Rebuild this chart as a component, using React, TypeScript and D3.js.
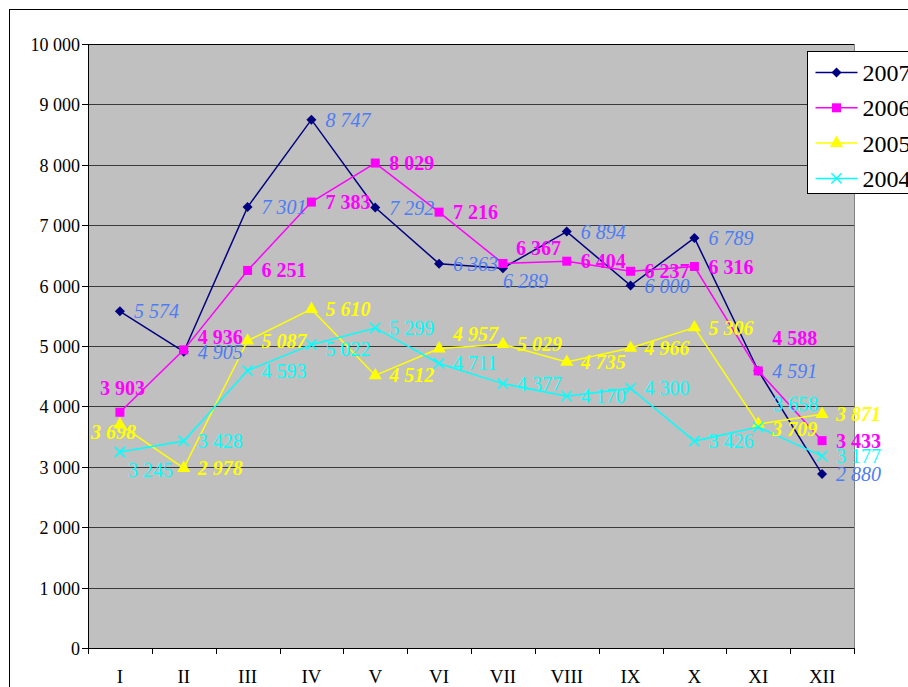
import * as d3 from "d3";

const months = ["I", "II", "III", "IV", "V", "VI", "VII", "VIII", "IX", "X", "XI", "XII"];
const yTicks = [0, 1000, 2000, 3000, 4000, 5000, 6000, 7000, 8000, 9000, 10000];

const values2007 = [5574, 4905, 7301, 8747, 7292, 6363, 6289, 6894, 6000, 6789, 4591, 2880];
const values2006 = [3903, 4936, 6251, 7383, 8029, 7216, 6367, 6404, 6237, 6316, 4588, 3433];
const values2005 = [3698, 2978, 5087, 5610, 4512, 4957, 5029, 4735, 4966, 5306, 3709, 3871];
const values2004 = [3245, 3428, 4593, 5022, 5299, 4711, 4377, 4170, 4300, 3426, 3658, 3177];

const series = [
  { name: "2007", values: values2007, color: "#000080", symbol: d3.symbolDiamond2, size: 64, filled: true,
    label: { fill: "#4d7cf4", weight: "normal", style: "italic" } },
  { name: "2006", values: values2006, color: "#ff00ff", symbol: d3.symbolSquare, size: 81, filled: true,
    label: { fill: "#ff00ff", weight: "bold", style: "normal" } },
  { name: "2005", values: values2005, color: "#ffff00", symbol: d3.symbolTriangle, size: 75, filled: true,
    label: { fill: "#ffff00", weight: "bold", style: "italic" } },
  { name: "2004", values: values2004, color: "#00ffff", symbol: d3.symbolX, size: 70, filled: false,
    label: { fill: "#00ffff", weight: "normal", style: "normal" } },
];

// hand-placed label nudges (series name + month index), like the original sheet
const labelNudge: Record<string, [number, number]> = {
  "2007-6": [0, 13],
  "2006-0": [-20, -24],
  "2006-1": [14, -13],
  "2006-6": [13, -15],
  "2006-10": [14, -33],
  "2005-0": [-29, 7],
  "2005-5": [14, -15],
  "2005-10": [14, 5],
  "2004-0": [8, 18],
  "2004-3": [14, 4],
  "2004-10": [15, -23],
};

const font = "Liberation Serif";

export default function App() {
  const width = 908;
  const height = 687;
  const plot = { left: 88, right: 854, top: 44, bottom: 648 };

  const x = d3.scaleBand().domain(months).range([plot.left, plot.right]);
  const cx = (m: string) => (x(m) as number) + x.bandwidth() / 2;
  const y = d3.scaleLinear().domain([0, 10000]).range([plot.bottom, plot.top]);

  const fmt = (v: number) => d3.format(",")(v).replace(",", " ");

  const line = d3.line<number>()
    .x((_, i) => cx(months[i]))
    .y(d => y(d));

  return (
    <div style={{ position: "absolute", left: 0, top: 0 }}>
      <svg width={width} height={height} fontFamily={font} style={{ display: "block" }}>
        <rect x={0} y={0} width={width} height={height} fill="#fff" />
        <rect x={9.5} y={9.5} width={width + 20} height={height + 20} fill="none" stroke="#000" strokeWidth={1} />

        <rect x={plot.left} y={plot.top} width={plot.right - plot.left} height={plot.bottom - plot.top} fill="#c0c0c0" />
        <line x1={plot.right + 0.5} x2={plot.right + 0.5} y1={plot.top} y2={plot.bottom} stroke="#808080" />

        {yTicks.map(t => (
          <g key={t} transform={`translate(0,${Math.round(y(t)) + 0.5})`}>
            {t > 0 && <line x1={plot.left} x2={plot.right} stroke={t === 10000 ? "#000" : "#3a3a3a"} strokeWidth={1} />}
            <line x1={plot.left - 6} x2={plot.left} stroke="#000" />
            <text x={plot.left - 8} dy="0.35em" textAnchor="end" fontSize={18} fill="#000" fontFamily={font}>{fmt(t)}</text>
          </g>
        ))}

        <line x1={plot.left + 0.5} x2={plot.left + 0.5} y1={plot.top} y2={plot.bottom} stroke="#000" />
        <line x1={plot.left} x2={plot.right} y1={plot.bottom + 0.5} y2={plot.bottom + 0.5} stroke="#000" />
        {[...months.map(m => x(m) as number), plot.right].map((tx, i) => (
          <line key={i} x1={Math.round(tx) + 0.5} x2={Math.round(tx) + 0.5} y1={plot.bottom} y2={plot.bottom + 6} stroke="#000" />
        ))}
        {months.map(m => (
          <text key={m} x={cx(m)} y={plot.bottom + 35} textAnchor="middle" fontSize={19} fill="#000" fontFamily={font}>{m}</text>
        ))}

        {series.map(s => (
          <g key={s.name}>
            <path d={line(s.values) || ""} fill="none" stroke={s.color} strokeWidth={1.5} />
            {s.values.map((v, i) => (
              <path
                key={i}
                transform={`translate(${cx(months[i])},${y(v)})`}
                d={d3.symbol(s.symbol, s.size)() || ""}
                fill={s.filled ? s.color : "none"}
                stroke={s.color}
                strokeWidth={s.filled ? 0 : 1.5}
              />
            ))}
          </g>
        ))}

        {series.map(s => (
          <g key={s.name + "-labels"}>
            {s.values.map((v, i) => {
              const [dx, dy] = labelNudge[`${s.name}-${i}`] || [14, 0];
              return (
                <text
                  key={i}
                  x={cx(months[i]) + dx}
                  y={y(v) + dy}
                  dy="0.35em"
                  fontSize={20}
                  fontFamily={font}
                  fill={s.label.fill}
                  fontWeight={s.label.weight}
                  fontStyle={s.label.style}
                >
                  {fmt(v)}
                </text>
              );
            })}
          </g>
        ))}

        <g transform="translate(807.5,51.5)">
          <rect width={120} height={142} fill="#fff" stroke="#000" />
          {series.map((s, i) => (
            <g key={s.name} transform={`translate(0,${21 + i * 35.3})`}>
              <line x1={8} x2={50} stroke={s.color} strokeWidth={1.5} />
              <path
                transform="translate(29,0)"
                d={d3.symbol(s.symbol, s.size)() || ""}
                fill={s.filled ? s.color : "none"}
                stroke={s.color}
                strokeWidth={s.filled ? 0 : 1.5}
              />
              <text x={55} dy="0.35em" fontSize={24} fill="#000" fontFamily={font}>{s.name}</text>
            </g>
          ))}
        </g>
      </svg>
    </div>
  );
}
